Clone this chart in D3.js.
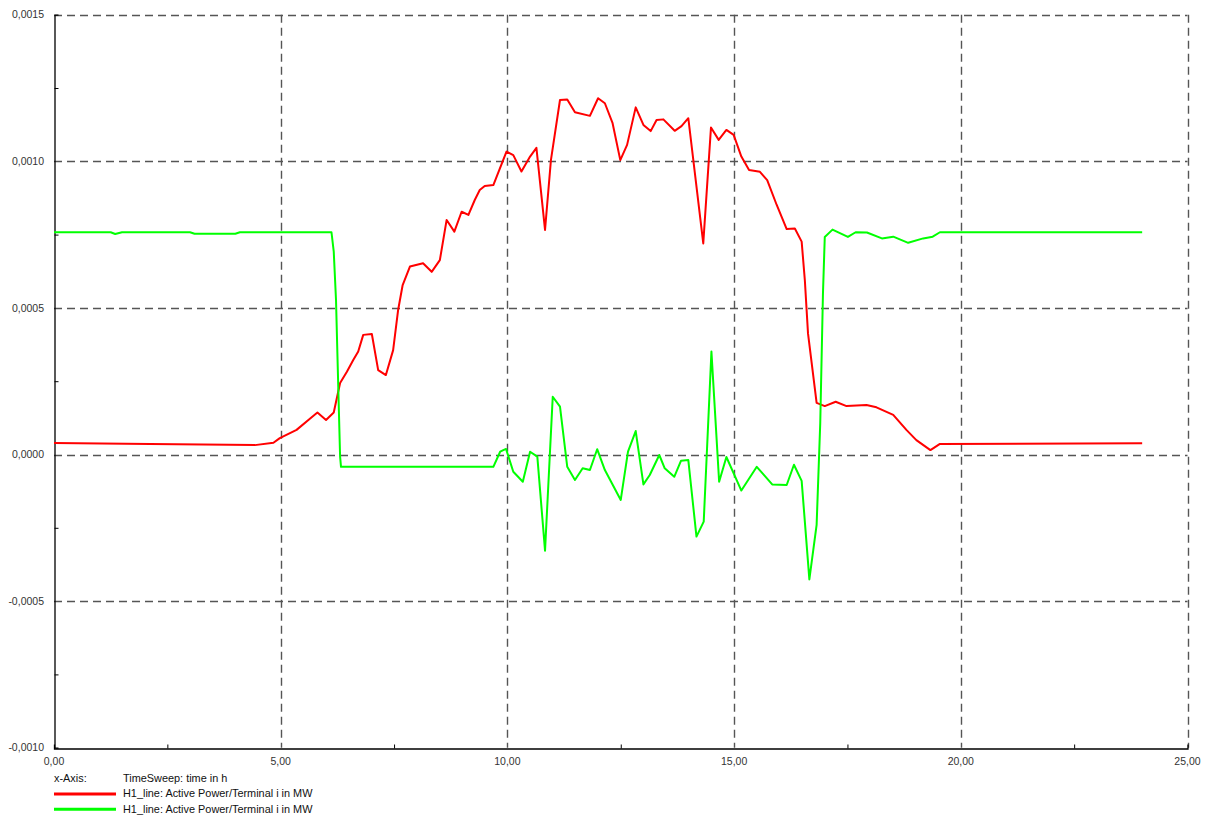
<!DOCTYPE html>
<html><head><meta charset="utf-8">
<script src="https://cdn.jsdelivr.net/npm/d3@7/dist/d3.min.js"></script>
<style>body{margin:0;background:#fff;}svg{display:block;font-family:"Liberation Sans",Arial,sans-serif;}</style>
</head><body><svg id="c" width="1211" height="819"></svg>
<script>
// Data
const redTime = [0,2.12,4.43,4.84,4.98,5.35,5.65,5.81,6.00,6.17,6.31,6.46,6.60,6.71,6.82,7.01,7.15,7.32,7.48,7.59,7.69,7.85,8.14,8.33,8.51,8.66,8.83,8.99,9.14,9.28,9.39,9.50,9.69,9.98,10.13,10.31,10.50,10.64,10.83,10.96,11.16,11.32,11.49,11.82,12.00,12.15,12.32,12.49,12.64,12.83,13.00,13.16,13.29,13.44,13.69,13.84,13.99,14.32,14.49,14.66,14.83,14.99,15.16,15.33,15.57,15.73,15.94,16.16,16.34,16.49,16.56,16.63,16.82,17.00,17.24,17.48,17.92,18.14,18.51,18.80,19.02,19.33,19.54,24.0];
const redValue = [0.000039,0.000036,0.000032,0.000040,0.000056,0.000084,0.000123,0.000143,0.000118,0.000143,0.000244,0.000282,0.000322,0.000351,0.000408,0.000411,0.000288,0.000271,0.000356,0.000493,0.000578,0.000641,0.000652,0.000623,0.000663,0.000800,0.000760,0.000828,0.000817,0.000868,0.000902,0.000916,0.000919,0.001033,0.001021,0.000965,0.001016,0.001046,0.000766,0.001004,0.001209,0.001211,0.001167,0.001155,0.001215,0.001198,0.001130,0.001004,0.001056,0.001184,0.001124,0.001103,0.001141,0.001143,0.001104,0.001120,0.001147,0.000720,0.001115,0.001073,0.001107,0.001090,0.001016,0.000970,0.000964,0.000936,0.000851,0.000769,0.000771,0.000726,0.000595,0.000413,0.000176,0.000165,0.000180,0.000165,0.000169,0.000161,0.000135,0.000084,0.000049,0.000015,0.000036,0.000038];
const greenTime = [0,1.25,1.35,1.5,3.0,3.1,4.0,4.1,6.12,6.17,6.22,6.25,6.31,6.33,9.69,9.84,9.97,10.13,10.34,10.50,10.66,10.83,11.00,11.16,11.32,11.49,11.66,11.82,11.98,12.15,12.50,12.66,12.83,13.00,13.14,13.35,13.47,13.68,13.83,13.99,14.17,14.33,14.50,14.67,14.83,15.16,15.50,15.84,16.16,16.32,16.49,16.66,16.82,16.90,16.96,17.00,17.17,17.51,17.68,17.93,18.26,18.51,18.84,19.17,19.38,19.54,24.0];
const greenValue = [0.000758,0.000758,0.000752,0.000758,0.000758,0.000753,0.000753,0.000758,0.000758,0.000692,0.000527,0.000346,-0.0000075,-0.000042,-0.000042,0.0000095,0.000019,-0.000059,-0.000093,0.0000095,-0.0000075,-0.000328,0.000197,0.000163,-0.000042,-0.000087,-0.000047,-0.000053,0.000018,-0.000053,-0.000155,0.0000095,0.000080,-0.000102,-0.000070,-0.0000017,-0.000047,-0.000076,-0.000021,-0.000019,-0.000280,-0.000229,0.000351,-0.000093,-0.0000085,-0.000123,-0.000042,-0.000102,-0.000104,-0.000035,-0.000090,-0.000426,-0.000240,0.000107,0.000550,0.000742,0.000767,0.000742,0.000758,0.000757,0.000737,0.000743,0.000722,0.000737,0.000743,0.000758,0.000758];
const xTicks = [0,5,10,15,20,25];
const xTickLabels = ["0,00","5,00","10,00","15,00","20,00","25,00"];
const yTicks = [-0.001,-0.0005,0,0.0005,0.001,0.0015];
const yTickLabels = ["-0,0010","-0,0005","0,0000","0,0005","0,0010","0,0015"];
const legendLabels = ["H1_line: Active Power/Terminal i in MW","H1_line: Active Power/Terminal i in MW"];
const seriesColors = ["#ff0000","#00ff00"];

const svg = d3.select("#c");
const L=54, R=1187.5, T=14.7, B=747.7;
const x = d3.scaleLinear().domain([0,25]).range([L,R]);
const y = d3.scaleLinear().domain([-0.001,0.0015]).range([B,T]);

const grid = svg.append("g");
grid.selectAll("line.h").data(yTicks.filter(v=>v>-0.001)).join("line")
  .attr("x1",L).attr("x2",R).attr("y1",d=>Math.round(y(d))+0.5).attr("y2",d=>Math.round(y(d))+0.5)
  .attr("stroke","#555").attr("stroke-width",1.4).attr("stroke-dasharray","8,5");
grid.selectAll("line.v").data(xTicks.filter(v=>v>0)).join("line")
  .attr("y1",T).attr("y2",B).attr("x1",d=>Math.round(x(d))+0.5).attr("x2",d=>Math.round(x(d))+0.5)
  .attr("stroke","#555").attr("stroke-width",1.4).attr("stroke-dasharray","8,5");

const xAxis = d3.axisBottom(x).tickValues([2.5,7.5,12.5,17.5,22.5]).tickSize(-4).tickFormat("");
const gx = svg.append("g").attr("transform",`translate(0,${Math.round(B)+0.5})`).call(xAxis);
gx.select(".domain").attr("stroke","#000").attr("stroke-width",1.3);
gx.selectAll(".tick line").attr("stroke","#000");
const yAxis = d3.axisLeft(y).tickValues([-0.00075,-0.00025,0.00025,0.00075,0.00125]).tickSize(-4).tickFormat("");
const gy = svg.append("g").attr("transform",`translate(${L+0.5},0)`).call(yAxis);
gy.select(".domain").attr("stroke","#000").attr("stroke-width",1.3);
gy.selectAll(".tick line").attr("stroke","#000");

svg.append("g").selectAll("text").data(yTicks).join("text")
  .attr("x",44).attr("y",d=>y(d)).attr("dy","0.35em").attr("text-anchor","end")
  .attr("font-size",10.5).attr("fill","#333").text((d,i)=>yTickLabels[i]);
svg.append("g").selectAll("text").data(xTicks).join("text")
  .attr("x",d=>x(d)).attr("y",761).attr("dy","0.35em").attr("text-anchor","middle")
  .attr("font-size",10.5).attr("fill","#333").text((d,i)=>xTickLabels[i]);

const line = d3.line().x(d=>x(d[0])).y(d=>y(d[1]));
const series = [d3.zip(redTime,redValue), d3.zip(greenTime,greenValue)];
svg.append("g").selectAll("path").data(series).join("path")
  .attr("d",line).attr("fill","none").attr("stroke",(d,i)=>seriesColors[i])
  .attr("stroke-width",2).attr("stroke-linejoin","round");

const lg = svg.append("g").attr("font-size",10.9).attr("fill","#111");
lg.append("text").attr("x",54).attr("y",778).attr("dy","0.35em").text("x-Axis:");
lg.append("text").attr("x",123).attr("y",778).attr("dy","0.35em").text("TimeSweep: time in h");
legendLabels.forEach((t,i)=>{
  const yy = 794 + i*15.3;
  lg.append("line").attr("x1",54).attr("x2",116).attr("y1",yy).attr("y2",yy)
    .attr("stroke",seriesColors[i]).attr("stroke-width",3);
  lg.append("text").attr("x",123).attr("y",yy-0.5).attr("dy","0.35em").text(t);
});
</script></body></html>
